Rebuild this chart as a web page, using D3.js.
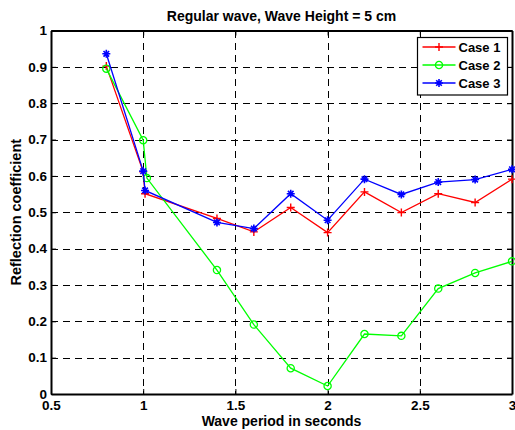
<!DOCTYPE html>
<html>
<head>
<meta charset="utf-8">
<script src="https://cdn.jsdelivr.net/npm/d3@7"></script>
<style>
  html, body { margin: 0; padding: 0; background: #fff; }
  svg { display: block; font-family: "Liberation Sans", Arial, sans-serif; }
</style>
</head>
<body>
<svg id="chart" width="515" height="430"></svg>
<script>
// Wave periods (s) at which the reflection coefficient was measured
const periods = [0.8, 1.0, 1.01, 1.4, 1.6, 1.8, 2.0, 2.2, 2.4, 2.6, 2.8, 3.0];
const periodsCase2 = [0.8, 1.0, 1.02, 1.4, 1.6, 1.8, 2.0, 2.2, 2.4, 2.6, 2.8, 3.0];

const case1 = [0.902, 0.611, 0.551, 0.483, 0.446, 0.513, 0.444, 0.556, 0.499, 0.551, 0.527, 0.591];
const case2 = [0.895, 0.698, 0.594, 0.341, 0.191, 0.071, 0.022, 0.165, 0.160, 0.290, 0.333, 0.365];
const case3 = [0.936, 0.613, 0.560, 0.472, 0.455, 0.551, 0.478, 0.591, 0.549, 0.583, 0.590, 0.618];

const xTicks = [0.5, 1, 1.5, 2, 2.5, 3];
const yTicks = [0, 0.1, 0.2, 0.3, 0.4, 0.5, 0.6, 0.7, 0.8, 0.9, 1];

const seriesNames = ["Case 1", "Case 2", "Case 3"];
const seriesColors = ["#ff0000", "#00ff00", "#0000ff"];
const seriesMarkers = ["plus", "circle", "star"];

const series = [
  { name: seriesNames[0], xs: periods, ys: case1, color: seriesColors[0], marker: seriesMarkers[0] },
  { name: seriesNames[1], xs: periodsCase2, ys: case2, color: seriesColors[1], marker: seriesMarkers[1] },
  { name: seriesNames[2], xs: periods, ys: case3, color: seriesColors[2], marker: seriesMarkers[2] }
];

const svg = d3.select("#chart");
const plotL = 51, plotR = 512, plotT = 30.5, plotB = 394;

const x = d3.scaleLinear().domain([0.5, 3]).range([plotL, plotR]);
const y = d3.scaleLinear().domain([0, 1]).range([plotB, plotT]);

// Dashed grid
const grid = svg.append("g").attr("stroke", "#000").attr("stroke-width", 1)
  .attr("stroke-dasharray", "7,5").attr("shape-rendering", "crispEdges");
grid.selectAll("line.gx").data(xTicks.slice(1, -1)).join("line")
  .attr("x1", d => Math.round(x(d)) + 0.5).attr("x2", d => Math.round(x(d)) + 0.5)
  .attr("y1", plotT).attr("y2", plotB);
grid.selectAll("line.gy").data(yTicks.slice(1, -1)).join("line")
  .attr("x1", plotL).attr("x2", plotR)
  .attr("y1", d => Math.round(y(d)) + 0.5).attr("y2", d => Math.round(y(d)) + 0.5);

// Axes (ticks point inward, box on all four sides)
const tickFont = g => g.selectAll("text")
  .attr("font-size", 13.5).attr("font-weight", "bold").attr("fill", "#000")
  .attr("font-family", "'Liberation Sans', Arial, sans-serif");

const xAxis = svg.append("g").attr("transform", `translate(0,${plotB})`)
  .call(d3.axisBottom(x).tickValues(xTicks).tickFormat(d3.format("")).tickSizeInner(-5).tickSizeOuter(0).tickPadding(6));
xAxis.call(tickFont);
xAxis.select(".domain").attr("stroke-width", 2);

const yAxis = svg.append("g").attr("transform", `translate(${plotL},0)`)
  .call(d3.axisLeft(y).tickValues(yTicks).tickFormat(d3.format("")).tickSizeInner(-5).tickSizeOuter(0).tickPadding(4));
yAxis.call(tickFont);
yAxis.select(".domain").attr("stroke-width", 2);

const xAxisTop = svg.append("g").attr("transform", `translate(0,${plotT})`)
  .call(d3.axisTop(x).tickValues(xTicks).tickFormat("").tickSizeInner(-5).tickSizeOuter(0));
xAxisTop.select(".domain").attr("stroke-width", 2);
const yAxisRight = svg.append("g").attr("transform", `translate(${plotR},0)`)
  .call(d3.axisRight(y).tickValues(yTicks).tickFormat("").tickSizeInner(-5).tickSizeOuter(0));
yAxisRight.select(".domain").attr("stroke-width", 2);

// Title and axis labels
svg.append("text").attr("x", (plotL + plotR) / 2).attr("y", 20.5).attr("text-anchor", "middle")
  .attr("font-size", 14).attr("font-weight", "bold").text("Regular wave, Wave Height = 5 cm");
svg.append("text").attr("x", (plotL + plotR) / 2).attr("y", 425.5).attr("text-anchor", "middle")
  .attr("font-size", 14).attr("font-weight", "bold").text("Wave period in seconds");
svg.append("text").attr("transform", `translate(20.5,${(plotT + plotB) / 2}) rotate(-90)`)
  .attr("text-anchor", "middle").attr("font-size", 14.5).attr("font-weight", "bold")
  .text("Reflection coefficient");

// Marker drawing
function drawMarker(g, type, color) {
  if (type === "plus") {
    g.append("path").attr("d", "M-4,0H4M0,-4V4").attr("stroke", color).attr("stroke-width", 1.4).attr("fill", "none");
  } else if (type === "circle") {
    g.append("circle").attr("r", 3.6).attr("stroke", color).attr("stroke-width", 1.3).attr("fill", "none");
  } else {
    g.append("path").attr("d", "M-4,0H4M0,-4V4M-2.8,-2.8L2.8,2.8M-2.8,2.8L2.8,-2.8")
      .attr("stroke", color).attr("stroke-width", 1.6).attr("fill", "none");
  }
}

const line = d3.line().x(d => x(d[0])).y(d => y(d[1]));
series.forEach(s => {
  const pts = s.xs.map((v, i) => [v, s.ys[i]]);
  svg.append("path").datum(pts).attr("d", line).attr("fill", "none")
    .attr("stroke", s.color).attr("stroke-width", 1.3);
  svg.append("g").selectAll("g").data(pts).join("g")
    .attr("transform", d => `translate(${x(d[0])},${y(d[1])})`)
    .each(function () { drawMarker(d3.select(this), s.marker, s.color); });
});

// Legend
const lg = svg.append("g").attr("transform", "translate(417.5,37.5)");
lg.append("rect").attr("width", 90).attr("height", 57.5).attr("fill", "#fff")
  .attr("stroke", "#000").attr("stroke-width", 1.2);
series.forEach((s, i) => {
  const yy = 9.5 + i * 18;
  lg.append("line").attr("x1", 5).attr("x2", 38).attr("y1", yy).attr("y2", yy)
    .attr("stroke", s.color).attr("stroke-width", 1.3);
  const m = lg.append("g").attr("transform", `translate(21.5,${yy})`);
  drawMarker(m, s.marker, s.color);
  lg.append("text").attr("x", 41).attr("y", yy + 4.8).attr("font-size", 13)
    .attr("font-weight", "bold").text(s.name);
});
</script>
</body>
</html>
